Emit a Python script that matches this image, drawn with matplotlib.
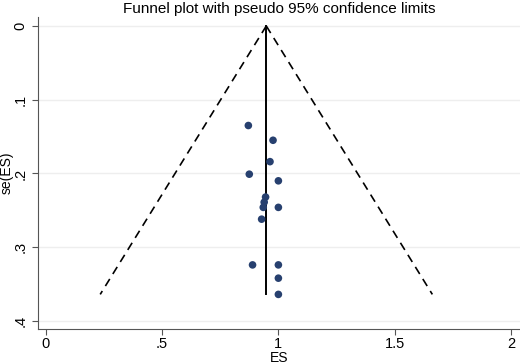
import matplotlib
matplotlib.use("Agg")
import matplotlib.pyplot as plt
import numpy as np

plt.rcParams['font.family'] = ['Liberation Sans', 'DejaVu Sans']

# effect sizes and standard errors
es = [0.871, 0.977, 0.964, 0.875, 1.0, 0.945, 0.939, 0.935, 1.0, 0.928, 0.889, 1.0, 1.0, 1.0]
se = [0.135, 0.155, 0.184, 0.201, 0.210, 0.232, 0.239, 0.246, 0.246, 0.262, 0.324, 0.324, 0.342, 0.364]
pooled = 0.948
se_max = 0.364

xticks = [0, 0.5, 1, 1.5, 2]
xticklabels = ['0', '.5', '1', '1.5', '2']
yticks = [0, 0.1, 0.2, 0.3, 0.4]
yticklabels = ['0', '.1', '.2', '.3', '.4']

fig = plt.figure(figsize=(5.2, 3.64), dpi=100)
ax = fig.add_axes([0.0725, 0.096, 0.9275, 0.857])

# pseudo 95% limits
s = np.array([0, se_max])
ax.plot(pooled - 1.96 * s, s, color='black', lw=1.2, ls=(0, (5, 3.5)))
ax.plot(pooled + 1.96 * s, s, color='black', lw=1.2, ls=(0, (5, 3.5)))
ax.plot([pooled, pooled], [0, se_max], color='black', lw=1.4)

ax.scatter(es, se, s=30, color='#27406f', zorder=3, edgecolors='none')

ax.set_xlim(-0.034, 2.038)
ax.set_ylim(0.411, -0.012)
ax.set_xticks(xticks)
ax.set_xticklabels(xticklabels)
ax.set_yticks(yticks)
ax.set_yticklabels(yticklabels, rotation=90, va='center')
ax.tick_params(labelsize=10.5, length=4, color='#555555')
ax.tick_params(axis='x', pad=2)
for a in ['top', 'right']:
    ax.spines[a].set_visible(False)
ax.spines['left'].set_color('#555555')
ax.spines['bottom'].set_color('#555555')
ax.yaxis.grid(True, color='#eeeeee', lw=1)
ax.set_axisbelow(True)

ax.set_xlabel('ES', fontsize=10, labelpad=-0.5)
ax.set_ylabel('se(ES)', fontsize=10, labelpad=0)
ax.set_title('Funnel plot with pseudo 95% confidence limits', fontsize=11, pad=3)

fig.savefig('out.png', dpi=100)
